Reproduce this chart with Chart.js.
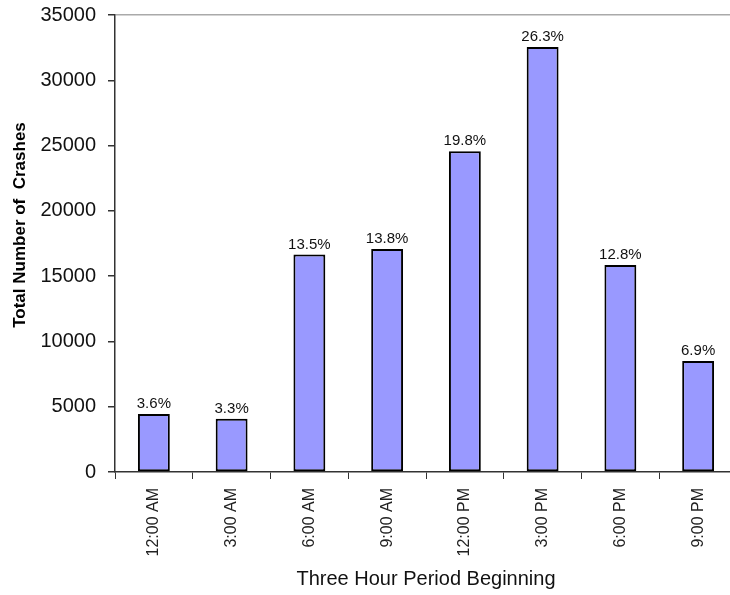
<!DOCTYPE html>
<html><head><meta charset="utf-8">
<script src="https://cdn.jsdelivr.net/npm/chart.js@4/dist/chart.umd.min.js"></script>
<style>html,body{margin:0;padding:0;background:#fff;overflow:hidden}#wrap{width:737px;height:595px}</style>
</head><body><div id="wrap"><canvas id="c" width="737" height="595"></canvas></div>
<script>
const categories = ["12:00 AM","3:00 AM","6:00 AM","9:00 AM","12:00 PM","3:00 PM","6:00 PM","9:00 PM"];
const crashes = [4450, 4080, 16650, 17080, 24560, 32550, 15850, 8500];
const percentLabels = ["3.6%","3.3%","13.5%","13.8%","19.8%","26.3%","12.8%","6.9%"];
const yTicks = [0,5000,10000,15000,20000,25000,30000,35000];
const yTitle = "Total Number of  Crashes";
const xTitle = "Three Hour Period Beginning";

const FONT = "'Liberation Sans', Arial, sans-serif";

const labelPlugin = {
  id: 'pctLabels',
  afterDatasetsDraw(chart) {
    const ctx = chart.ctx;
    const meta = chart.getDatasetMeta(0);
    ctx.save();
    ctx.font = "15px " + FONT;
    ctx.fillStyle = "#111";
    ctx.textAlign = "center";
    ctx.textBaseline = "alphabetic";
    meta.data.forEach((bar, i) => {
      ctx.fillText(percentLabels[i], bar.x, bar.y - 6);
    });
    ctx.restore();
  }
};

const yTitlePlugin = {
  id: 'yTitle',
  afterDraw(chart) {
    const ctx = chart.ctx;
    ctx.save();
    ctx.translate(20, 225);
    ctx.rotate(-Math.PI / 2);
    ctx.font = "bold 17px " + FONT;
    ctx.fillStyle = "#000";
    ctx.textAlign = "center";
    ctx.textBaseline = "middle";
    ctx.fillText(yTitle, 0, 0);
    ctx.restore();
  }
};

new Chart(document.getElementById('c'), {
  type: 'bar',
  data: {
    labels: categories,
    datasets: [{
      data: crashes,
      backgroundColor: '#9999FF',
      borderColor: '#000',
      borderWidth: 2,
      borderSkipped: false,
      barPercentage: 0.41,
      categoryPercentage: 1.0
    }]
  },
  options: {
    responsive: false,
    animation: false,
    layout: { padding: { left: 0, right: 0, top: 15, bottom: 0 } },
    plugins: { legend: { display: false }, tooltip: { enabled: false } },
    scales: {
      x: {
        offset: true,
        afterFit(axis) { axis.height = 123; axis.paddingLeft = 0; axis.paddingRight = 0; },
        grid: { offset: true, drawOnChartArea: false, color: '#333', tickLength: 7, lineWidth: 1 },
        border: { color: '#333', width: 1.5 },
        ticks: { maxRotation: 90, minRotation: 90, color: '#222', font: { family: FONT, size: 16 }, padding: 9 },
        title: { display: true, text: xTitle, color: '#111', font: { family: FONT, size: 20 }, padding: { top: 0, bottom: 4 } }
      },
      y: {
        min: 0, max: 35000,
        afterBuildTicks(axis) { axis.ticks = yTicks.map(v => ({ value: v })); },
        afterFit(axis) { axis.width = 115; axis.paddingTop = 0; axis.paddingBottom = 0; },
        grid: {
          drawOnChartArea: true,
          color: (c) => (c.tick && c.tick.value === 35000) ? '#aaaaaa' : 'rgba(0,0,0,0)',
          tickColor: '#333', tickLength: 7, lineWidth: 1.5
        },
        border: { color: '#333', width: 1.5 },
        ticks: { color: '#111', font: { family: FONT, size: 20 }, padding: 12, callback: (v) => String(v) },
        title: { display: false }
      }
    }
  },
  plugins: [labelPlugin, yTitlePlugin]
});
</script></body></html>
